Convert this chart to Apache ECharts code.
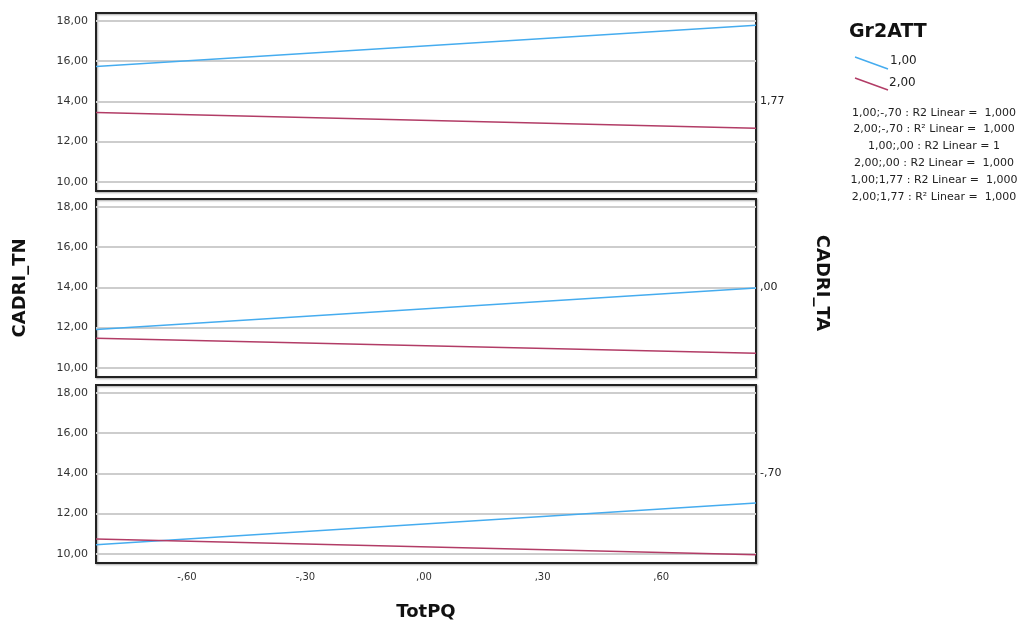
<!DOCTYPE html>
<html>
<head>
<meta charset="utf-8">
<script src="https://cdn.jsdelivr.net/npm/echarts@6/dist/echarts.min.js"></script>
<style>html,body{margin:0;padding:0;background:#fff}#c{width:1024px;height:626px}</style>
</head>
<body>
<div id="c"></div>
<script>
// ---- data ----
const xEnds = [-0.83, 0.84];            // TotPQ range of fitted lines
const xTicks = [-0.6, -0.3, 0, 0.3, 0.6];
const yTicks = [10, 12, 14, 16, 18];
const panelLabels = ['1,77', ',00', '-,70'];   // CADRI_TA panels (top to bottom)
const group1Top = [15.73, 17.77];
const group2Top = [13.44, 12.66];
const group1Mid = [11.91, 13.97];
const group2Mid = [11.47, 10.73];
const group1Bot = [10.45, 12.53];
const group2Bot = [10.74, 9.96];
const legendNames = ['1,00', '2,00'];
const r2Notes = [
  '1,00;-,70 : R2 Linear =  1,000',
  '2,00;-,70 : R\u00b2 Linear =  1,000',
  '1,00;,00 : R2 Linear = 1',
  '2,00;,00 : R2 Linear =  1,000',
  '1,00;1,77 : R2 Linear =  1,000',
  '2,00;1,77 : R\u00b2 Linear =  1,000'
];

const blueC = '#45acef';
const pinkC = '#b23c66';
const font = '"DejaVu Sans", Arial, sans-serif';

function fmtNum(v, d) {
  let s = Math.abs(v).toFixed(d).replace('.', ',');
  if (Math.abs(v) < 1) s = s.replace(/^0/, '');
  return (v < 0 ? '-' : '') + s;
}

const groups = [[group1Top, group2Top], [group1Mid, group2Mid], [group1Bot, group2Bot]];
const tops = [13, 199, 385];
const H = 178;
const yMin = 9.55, yMax = 18.38;

const grid = [], xAxis = [], yAxis = [], series = [];
tops.forEach((t, i) => {
  grid.push({left: 96, right: 268, top: t, height: H, show: true, borderColor: '#222', borderWidth: 2,
    backgroundColor: 'transparent', shadowColor: 'rgba(0,0,0,0.35)', shadowBlur: 2, shadowOffsetX: 1, shadowOffsetY: 1});
  xAxis.push({type: 'value', gridIndex: i, min: xEnds[0], max: xEnds[1],
    axisLine: {show: false}, axisTick: {show: false, customValues: xTicks}, splitLine: {show: false},
    axisLabel: {show: i === 2, customValues: xTicks, formatter: v => fmtNum(v, 2), color: '#333', fontSize: 10, fontFamily: font, margin: 9}});
  yAxis.push({type: 'value', gridIndex: i, min: yMin, max: yMax,
    axisLine: {show: false}, axisTick: {show: false, customValues: yTicks},
    splitLine: {show: true, lineStyle: {color: '#cdcdcd', width: 2}},
    axisLabel: {customValues: yTicks, formatter: v => fmtNum(v, 2), color: '#333', fontSize: 11, fontFamily: font, margin: 8}});
  yAxis.push({type: 'value', gridIndex: i, position: 'right', min: yMin, max: yMax,
    axisLine: {show: false}, axisTick: {show: false, customValues: [14]}, splitLine: {show: false},
    axisLabel: {customValues: [14], formatter: () => panelLabels[i], color: '#222', fontSize: 11, fontFamily: font, margin: 4}});
  groups[i].forEach((vals, g) => {
    series.push({type: 'line', xAxisIndex: i, yAxisIndex: i * 2, name: legendNames[g],
      data: xEnds.map((x, k) => [x, vals[k]]), showSymbol: false, symbol: 'none',
      lineStyle: {color: g === 0 ? blueC : pinkC, width: 1.5}, z: 3, silent: true});
  });
});

const graphic = [
  {type: 'text', x: 426, y: 612, style: {text: 'TotPQ', font: 'bold 18px ' + font, fill: '#111', align: 'center', verticalAlign: 'middle'}},
  {type: 'text', x: 20, y: 288, rotation: Math.PI / 2, style: {text: 'CADRI_TN', font: 'bold 18px ' + font, fill: '#111', align: 'center', verticalAlign: 'middle'}},
  {type: 'text', x: 822, y: 283, rotation: -Math.PI / 2, style: {text: 'CADRI_TA', font: 'bold 18px ' + font, fill: '#111', align: 'center', verticalAlign: 'middle'}},
  {type: 'text', x: 849, y: 32, style: {text: 'Gr2ATT', font: 'bold 19px ' + font, fill: '#111', verticalAlign: 'middle'}},
  {type: 'line', shape: {x1: 855, y1: 57, x2: 888, y2: 69}, style: {stroke: blueC, lineWidth: 1.5}},
  {type: 'text', x: 890, y: 61, style: {text: legendNames[0], font: '12px ' + font, fill: '#222', verticalAlign: 'middle'}},
  {type: 'line', shape: {x1: 855, y1: 78, x2: 888, y2: 90}, style: {stroke: pinkC, lineWidth: 1.5}},
  {type: 'text', x: 889, y: 83, style: {text: legendNames[1], font: '12px ' + font, fill: '#222', verticalAlign: 'middle'}}
];
const noteY = [113, 129, 146, 163, 180, 197];
r2Notes.forEach((s, i) => {
  graphic.push({type: 'text', x: 934, y: noteY[i], style: {text: s, font: '11px ' + font, fill: '#222', align: 'center', verticalAlign: 'middle'}});
});

const chart = echarts.init(document.getElementById('c'), null, {renderer: 'canvas'});
chart.setOption({animation: false, backgroundColor: '#fff', grid, xAxis, yAxis, series, graphic});
</script>
</body>
</html>
